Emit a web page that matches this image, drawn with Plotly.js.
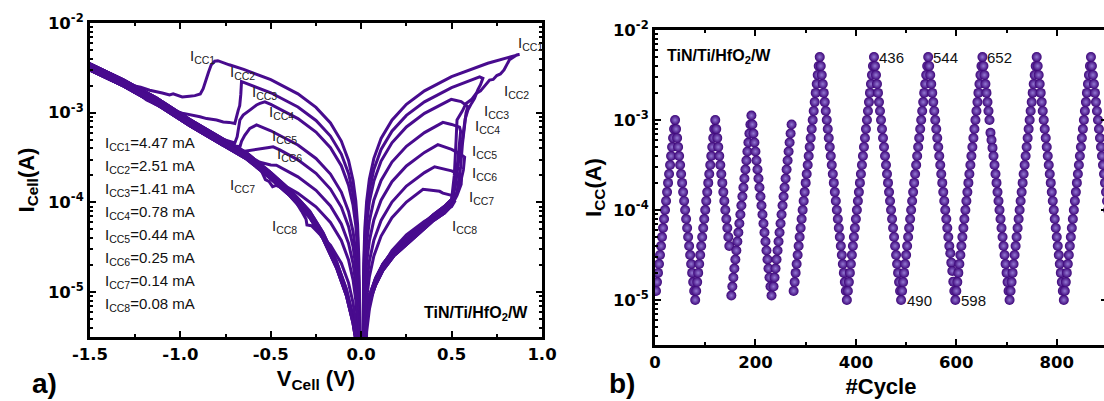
<!DOCTYPE html>
<html>
<head>
<meta charset="utf-8">
<script src="https://cdn.plot.ly/plotly-3.0.1.min.js"></script>
<style>
html,body{margin:0;padding:0;overflow:hidden;background:#fff;}
#chart{width:1130px;height:401px;}
</style>
</head>
<body>
<div id="chart"></div>
<script>
// ---------------- Panel a) : I-V loops ----------------
const ccNames = ['CC1','CC2','CC3','CC4','CC5','CC6','CC7','CC8'];
const ccValues = ['4.47','2.51','1.41','0.78','0.44','0.25','0.14','0.08'];

// positive HRS rise (shared band, three edges of the thick bundle)
const ivRiseV   = [0.012,0.02,0.03,0.05,0.08,0.12,0.18,0.25,0.33,0.40,0.46,0.50];
const ivRiseHi  = [1e-7,2.7e-6,5.4e-6,9.6e-6,1.43e-5,2.05e-5,2.97e-5,4.0e-5,5.5e-5,7.3e-5,9.0e-5,1.08e-4];
const ivRiseMid = [1e-7,2.5e-6,5.0e-6,8.9e-6,1.32e-5,1.9e-5,2.75e-5,3.7e-5,5.1e-5,6.8e-5,8.3e-5,1.0e-4];
const ivRiseLo  = [1e-7,2.3e-6,4.6e-6,8.2e-6,1.21e-5,1.75e-5,2.53e-5,3.4e-5,4.7e-5,6.3e-5,7.6e-5,9.2e-5];

// negative HRS band (-1.5 V .. 0 V)
const ivBandV   = [-1.5,-1.316,-1.132,-0.948,-0.763,-0.634,-0.506,-0.395,-0.285,-0.211,-0.137,-0.082,-0.045,-0.027,-0.02];
const ivBandHi  = [3.5e-3,2.33e-3,1.46e-3,8.4e-4,5.05e-4,3.57e-4,2.2e-4,1.39e-4,8.0e-5,4.6e-5,2.2e-5,1.08e-5,5.3e-6,3.1e-6,1e-7];
const ivBandMid = [3.24e-3,2.16e-3,1.35e-3,7.76e-4,4.68e-4,3.31e-4,2.04e-4,1.29e-4,7.41e-5,4.27e-5,2.04e-5,1.0e-5,4.9e-6,2.9e-6,1e-7];
const ivBandLo  = [2.98e-3,1.99e-3,1.24e-3,7.14e-4,4.31e-4,3.05e-4,1.88e-4,1.19e-4,6.8e-5,3.93e-5,1.88e-5,9.2e-6,4.5e-6,2.7e-6,1e-7];

// per-curve: SET -> LRS (+) -> LRS (-) -> RESET tail
const ivV1 = [0.515,0.525,0.53,0.56,0.58,0.61,0.636,0.66,0.68,0.71,0.73,0.75,0.77,0.79,0.82,0.86,0.876,
  0.7,0.5,0.35,0.25,0.17,0.11,0.07,0.045,0.03,0.02,0.014,0.011,0,
  -0.0085,-0.01,-0.013,-0.02,-0.03,-0.045,-0.07,-0.11,-0.17,-0.25,-0.35,-0.5,-0.65,-0.73,-0.793,
  -0.81,-0.83,-0.845,-0.855,-0.874,-0.89,-0.92,-0.95,-0.99,-1.04,-1.06,-1.10,-1.13,-1.17,-1.22,-1.26];
const ivI1 = [2.0e-4,5.0e-4,8.3e-4,1.05e-3,1.27e-3,1.40e-3,1.64e-3,1.75e-3,1.98e-3,2.31e-3,2.35e-3,2.6e-3,2.7e-3,3.0e-3,3.9e-3,4.4e-3,4.47e-3,
  3.56e-3,2.53e-3,1.755e-3,1.239e-3,8.26e-4,5.16e-4,3.10e-4,1.81e-4,1.03e-4,5.16e-5,2.07e-5,5.2e-6,1e-8,
  1e-8,9.5e-6,2.37e-5,5.69e-5,1.04e-4,1.75e-4,2.94e-4,4.83e-4,7.68e-4,1.147e-3,1.621e-3,2.332e-3,3.043e-3,3.42e-3,3.8e-3,
  3.75e-3,3.4e-3,2.8e-3,2.4e-3,1.85e-3,1.62e-3,1.55e-3,1.53e-3,1.50e-3,1.62e-3,1.58e-3,1.66e-3,1.70e-3,1.78e-3,1.92e-3,2.0e-3];

const ivV2 = [0.52,0.54,0.56,0.575,0.59,0.61,0.627,0.645,0.66,0.673,0.655,
  0.5,0.35,0.25,0.17,0.11,0.07,0.045,0.03,0.02,0.014,0.011,0,
  -0.0085,-0.01,-0.013,-0.02,-0.03,-0.045,-0.07,-0.11,-0.17,-0.25,-0.35,-0.5,-0.65,-0.662,
  -0.666,-0.672,-0.68,-0.69,-0.699,-0.73,-0.763,-0.80,-0.855,-0.892,-0.948,-0.99,-1.04,-1.08,-1.113,-1.15,-1.187,-1.224,-1.26,-1.29];
const ivI2 = [1.5e-4,3.0e-4,5.0e-4,8.5e-4,1.07e-3,1.27e-3,1.45e-3,1.8e-3,2.05e-3,2.42e-3,2.51e-3,
  1.907e-3,1.323e-3,9.34e-4,6.23e-4,3.89e-4,2.33e-4,1.36e-4,7.78e-5,3.89e-5,1.56e-5,3.9e-6,1e-8,
  1e-8,6.8e-6,1.69e-5,4.07e-5,7.46e-5,1.254e-4,2.10e-4,3.46e-4,5.49e-4,8.20e-4,1.159e-3,1.668e-3,2.176e-3,2.22e-3,
  1.6e-3,1.2e-3,1.07e-3,8.5e-4,7.6e-4,7.8e-4,7.9e-4,8.3e-4,8.6e-4,9.0e-4,9.4e-4,9.9e-4,1.07e-3,1.12e-3,1.17e-3,1.28e-3,1.39e-3,1.57e-3,1.71e-3,1.95e-3];

const ivV3 = [0.53,0.55,0.56,0.57,0.58,0.59,0.553,0.52,0.498,
  0.35,0.25,0.17,0.11,0.07,0.045,0.03,0.02,0.014,0.011,0,
  -0.0085,-0.01,-0.013,-0.02,-0.03,-0.045,-0.07,-0.11,-0.17,-0.25,-0.35,-0.5,-0.533,
  -0.56,-0.579,-0.616,-0.653,-0.671,-0.68,-0.686,-0.699];
const ivI3 = [1.3e-4,2.5e-4,4.5e-4,7.0e-4,1.0e-3,1.17e-3,1.33e-3,1.38e-3,1.41e-3,
  9.83e-4,6.94e-4,4.62e-4,2.89e-4,1.73e-4,1.01e-4,5.78e-5,2.89e-5,1.16e-5,2.9e-6,1e-8,
  1e-8,5.0e-6,1.26e-5,3.02e-5,5.53e-5,9.30e-5,1.558e-4,2.563e-4,4.07e-4,6.08e-4,8.59e-4,1.236e-3,1.32e-3,
  1.27e-3,1.22e-3,1.07e-3,9.4e-4,8.3e-4,6.5e-4,5.4e-4,4.6e-4];

const ivV4 = [0.52,0.535,0.545,0.55,0.544,0.50,0.452,
  0.35,0.25,0.17,0.11,0.07,0.045,0.03,0.02,0.014,0.011,0,
  -0.0085,-0.01,-0.013,-0.02,-0.03,-0.045,-0.07,-0.11,-0.17,-0.25,-0.35,-0.5,-0.579,
  -0.60,-0.616,-0.644,-0.662,-0.67];
const ivI4 = [1.6e-4,3.0e-4,4.5e-4,6.2e-4,6.9e-4,7.4e-4,7.8e-4,
  6.0e-4,4.23e-4,2.82e-4,1.76e-4,1.06e-4,6.17e-5,3.53e-5,1.76e-5,7.05e-6,1.8e-6,1e-8,
  1e-8,2.6e-6,6.4e-6,1.53e-5,2.81e-5,4.73e-5,7.93e-5,1.304e-4,2.07e-4,3.09e-4,4.37e-4,6.29e-4,7.3e-4,
  7.0e-4,6.7e-4,5.6e-4,4.8e-4,4.2e-4];

const ivV5 = [0.53,0.55,0.565,0.572,0.544,0.50,0.424,
  0.35,0.25,0.17,0.11,0.07,0.045,0.03,0.02,0.014,0.011,0,
  -0.0085,-0.01,-0.013,-0.02,-0.03,-0.045,-0.07,-0.11,-0.17,-0.25,-0.35,-0.45,-0.487,
  -0.51,-0.542,-0.58,-0.616,-0.64,-0.653];
const ivI5 = [1.3e-4,1.7e-4,2.3e-4,3.2e-4,3.5e-4,3.9e-4,4.4e-4,
  3.61e-4,2.55e-4,1.70e-4,1.06e-4,6.38e-5,3.72e-5,2.13e-5,1.06e-5,4.25e-6,1.1e-6,1e-8,
  1e-8,1.7e-6,4.35e-6,1.04e-5,1.91e-5,3.22e-5,5.40e-5,8.88e-5,1.41e-4,2.11e-4,2.98e-4,3.85e-4,4.17e-4,
  4.1e-4,4.0e-4,3.9e-4,3.83e-4,3.75e-4,3.7e-4];

const ivV6 = [0.53,0.553,0.555,0.50,0.406,
  0.35,0.25,0.17,0.11,0.07,0.045,0.03,0.02,0.014,0,
  -0.0085,-0.013,-0.02,-0.03,-0.045,-0.07,-0.11,-0.17,-0.25,-0.35,-0.469,
  -0.50,-0.524,-0.561,-0.598,-0.63];
const ivI6 = [1.2e-4,1.6e-4,2.0e-4,2.25e-4,2.5e-4,
  2.15e-4,1.52e-4,1.01e-4,6.31e-5,3.79e-5,2.21e-5,1.26e-5,6.3e-6,2.5e-6,1e-8,
  1e-8,2.8e-6,6.8e-6,1.24e-5,2.09e-5,3.50e-5,5.75e-5,9.14e-5,1.365e-4,1.929e-4,2.6e-4,
  2.62e-4,2.67e-4,2.8e-4,3.1e-4,3.4e-4];

const ivV7 = [0.52,0.50,0.452,0.434,0.38,0.342,
  0.25,0.17,0.11,0.07,0.045,0.03,0.02,0.014,0,
  -0.0085,-0.02,-0.03,-0.045,-0.07,-0.11,-0.17,-0.25,-0.35,-0.40,
  -0.43,-0.47,-0.49,-0.51,-0.53,-0.55,-0.56];
const ivI7 = [1.15e-4,1.2e-4,1.27e-4,1.33e-4,1.38e-4,1.4e-4,
  1.01e-4,6.75e-5,4.22e-5,2.53e-5,1.48e-5,8.4e-6,4.2e-6,1.7e-6,1e-8,
  1e-8,4.4e-6,8.1e-6,1.37e-5,2.29e-5,3.77e-5,5.99e-5,8.95e-5,1.265e-4,1.45e-4,
  1.42e-4,1.55e-4,1.5e-4,1.72e-4,1.8e-4,2.2e-4,2.6e-4];

const ivV8 = [0.52,0.50,0.45,
  0.35,0.25,0.17,0.11,0.07,0.045,0.03,0,
  -0.0085,-0.03,-0.045,-0.07,-0.11,-0.17,-0.25,-0.275,-0.30,
  -0.305,-0.33,-0.36,-0.37];
const ivI8 = [1.05e-4,9.0e-5,8.0e-5,
  6.18e-5,4.36e-5,2.91e-5,1.82e-5,1.09e-5,6.4e-6,3.6e-6,1e-8,
  1e-8,4.5e-6,7.6e-6,1.27e-5,2.10e-5,3.33e-5,4.97e-5,5.5e-5,5.6e-5,
  6.5e-5,8.0e-5,1.0e-4,1.17e-4];

// ---------------- Panel b) : I_CC vs cycle ----------------
const cycleNo = [
  2,4,6,8,10,12,14,16,18,20,22,24,26,28,30,32,34,36,38,40,
  42,44,46,48,50,52,54,56,58,60,62,64,66,68,70,72,74,76,78,80,
  82,84,86,88,90,92,94,96,98,100,102,104,106,108,110,112,114,116,118,120,
  122,124,126,128,130,132,134,136,138,140,142,144,146,148,
  152,154,156,158,160,162,164,166,168,170,172,174,176,178,180,182,184,186,188,190,192,
  194,196,198,200,202,204,206,208,210,212,214,216,218,220,222,224,226,228,230,232,
  236,238,240,242,244,246,248,250,252,254,256,258,260,262,264,266,268,270,272,
  276,278,280,282,284,286,288,290,292,294,296,298,300,302,304,306,308,310,312,314,316,318,320,322,324,326,328,
  330,332,334,336,338,340,342,344,346,348,350,352,354,356,358,360,362,364,366,368,370,372,374,376,378,380,382,
  384,386,388,390,392,394,396,398,400,402,404,406,408,410,412,414,416,418,420,422,424,426,428,430,432,434,436,
  438,440,442,444,446,448,450,452,454,456,458,460,462,464,466,468,470,472,474,476,478,480,482,484,486,488,490,
  492,494,496,498,500,502,504,506,508,510,512,514,516,518,520,522,524,526,528,530,532,534,536,538,540,542,544,
  546,548,550,552,554,556,558,560,562,564,566,568,570,572,574,576,578,580,582,584,586,588,590,592,594,596,598,
  600,602,604,606,608,610,612,614,616,618,620,622,624,626,628,630,632,634,636,638,640,642,644,646,648,650,652,
  654,656,658,660,662,664,666,668,670,672,674,676,678,680,682,684,686,688,690,692,694,696,698,700,702,704,706,
  708,710,712,714,716,718,720,722,724,726,728,730,732,734,736,738,740,742,744,746,748,750,752,754,756,758,760,
  762,764,766,768,770,772,774,776,778,780,782,784,786,788,790,792,794,796,798,800,802,804,806,808,810,812,814,
  816,818,820,822,824,826,828,830,832,834,836,838,840,842,844,846,848,850,852,854,856,858,860,862,864,866,868,
  870,872,874,876,878,880,882,884,886,888,890,892,894,896,898,900,902,904,906,908,910,912,914,916,918,920,922];

const sweepRiseSmall = [1.26e-5,1.58e-5,2.00e-5,2.51e-5,3.16e-5,3.98e-5,5.01e-5,6.31e-5,7.94e-5,1.00e-4,1.26e-4,1.58e-4,2.00e-4,2.51e-4,3.16e-4,3.98e-4,5.01e-4,6.31e-4,7.94e-4,1.00e-3];
const sweepFallSmall = [7.94e-4,6.31e-4,5.01e-4,3.98e-4,3.16e-4,2.51e-4,2.00e-4,1.58e-4,1.26e-4,1.00e-4,7.94e-5,6.31e-5,5.01e-5,3.98e-5,3.16e-5,2.51e-5,2.00e-5,1.58e-5,1.26e-5,1.00e-5];
const sweepFallShort = [7.94e-4,6.31e-4,5.01e-4,3.98e-4,3.16e-4,2.51e-4,2.00e-4,1.58e-4,1.26e-4,1.00e-4,7.94e-5,6.31e-5,5.01e-5,3.98e-5];
const sweepRiseMid = [1.12e-5,1.41e-5,1.78e-5,2.24e-5,2.82e-5,3.55e-5,4.47e-5,5.62e-5,7.08e-5,8.91e-5,1.12e-4,1.41e-4,1.78e-4,2.24e-4,2.82e-4,3.55e-4,4.47e-4,5.62e-4,7.08e-4,8.91e-4,1.12e-3];
const sweepFallMid = [8.91e-4,7.08e-4,5.62e-4,4.47e-4,3.55e-4,2.82e-4,2.24e-4,1.78e-4,1.41e-4,1.12e-4,8.91e-5,7.08e-5,5.62e-5,4.47e-5,3.55e-5,2.82e-5,2.24e-5,1.78e-5,1.41e-5,1.12e-5];
const sweepRiseShort = [1.41e-5,1.78e-5,2.24e-5,2.82e-5,3.55e-5,4.47e-5,5.62e-5,7.08e-5,8.91e-5,1.12e-4,1.41e-4,1.78e-4,2.24e-4,2.82e-4,3.55e-4,4.47e-4,5.62e-4,7.08e-4,8.91e-4];
const sweepRiseBig = [1.26e-5,1.58e-5,2.00e-5,2.51e-5,3.16e-5,3.98e-5,5.01e-5,6.31e-5,7.94e-5,1.00e-4,1.26e-4,1.58e-4,2.00e-4,2.51e-4,3.16e-4,3.98e-4,5.01e-4,6.31e-4,7.94e-4,1.00e-3,1.26e-3,1.58e-3,2.00e-3,2.51e-3,3.16e-3,3.98e-3,5.01e-3];
const sweepFallBig = [3.98e-3,3.16e-3,2.51e-3,2.00e-3,1.58e-3,1.26e-3,1.00e-3,7.94e-4,6.31e-4,5.01e-4,3.98e-4,3.16e-4,2.51e-4,2.00e-4,1.58e-4,1.26e-4,1.00e-4,7.94e-5,6.31e-5,5.01e-5,3.98e-5,3.16e-5,2.51e-5,2.00e-5,1.58e-5,1.26e-5,1.00e-5];
const sweepFall598 = [3.98e-3,3.16e-3,2.51e-3,2.00e-3,1.58e-3,1.26e-3,1.00e-3,7.94e-4,6.31e-4,5.01e-4,3.98e-4,3.16e-4,2.51e-4,2.00e-4,1.58e-4,1.26e-4,1.00e-4,7.94e-5,6.31e-5,5.01e-5,3.98e-5,3.3e-5,2.6e-5,2.1e-5,1.6e-5,1.26e-5,1.00e-5];
const sweepFall706 = [3.98e-3,3.16e-3,2.51e-3,2.00e-3,1.58e-3,1.26e-3,1.00e-3,7.2e-4,6.0e-4,4.9e-4,3.98e-4,3.16e-4,2.51e-4,2.00e-4,1.58e-4,1.26e-4,1.00e-4,7.94e-5,6.31e-5,5.01e-5,3.98e-5,3.16e-5,2.51e-5,2.00e-5,1.58e-5,1.26e-5,1.00e-5];

const iccA = [].concat(sweepRiseSmall, sweepFallSmall, sweepRiseSmall, sweepFallShort,
  sweepRiseMid, sweepFallMid, sweepRiseShort,
  sweepRiseBig, sweepFallBig, sweepRiseBig, sweepFallBig, sweepRiseBig, sweepFall598,
  sweepRiseBig, sweepFall706, sweepRiseBig, sweepFallBig, sweepRiseBig, sweepFallBig);

const peakCycles = [436, 544, 652];
const minCycles = [490, 598];

const xTickA = [-1.5,-1.0,-0.5,0.0,0.5,1.0];
const xTickTextA = ['-1.5','-1.0','-0.5','0.0','0.5','1.0'];
const yTickVals = [1e-5,1e-4,1e-3,1e-2];
const yTickText = ['10<sup>-5</sup>','10<sup>-4</sup>','10<sup>-3</sup>','10<sup>-2</sup>'];
const xTickB = [0,200,400,600,800];

// ---------------- build traces ----------------
const purple = '#480b8e';
const loopsV = [ivV1,ivV2,ivV3,ivV4,ivV5,ivV6,ivV7,ivV8];
const loopsI = [ivI1,ivI2,ivI3,ivI4,ivI5,ivI6,ivI7,ivI8];
const riseSet = [ivRiseHi,ivRiseMid,ivRiseLo,ivRiseHi,ivRiseMid,ivRiseLo,ivRiseHi,ivRiseLo];
const fwdSet  = [ivBandHi,ivBandMid,ivBandHi,ivBandLo,ivBandHi,ivBandMid,ivBandLo,ivBandMid];
const retSet  = [ivBandLo,ivBandHi,ivBandMid,ivBandMid,ivBandLo,ivBandHi,ivBandMid,ivBandLo];

const traces = [];
for (let k = 0; k < 8; k++) {
  const v = ivRiseV.concat(loopsV[k]);
  const c = riseSet[k].concat(loopsI[k]);
  const vEnd = loopsV[k][loopsV[k].length - 1];
  for (let j = ivBandV.length - 1; j >= 0; j--) {
    if (ivBandV[j] < vEnd) { v.push(ivBandV[j]); c.push(fwdSet[k][j]); }
  }
  for (let j = 0; j < ivBandV.length; j++) { v.push(ivBandV[j]); c.push(retSet[k][j]); }
  traces.push({type:'scatter', mode:'lines', x:v, y:c, xaxis:'x', yaxis:'y',
    name:'I' + ccNames[k], line:{color:purple, width:3}, hoverinfo:'skip', showlegend:false});
}
traces.push({type:'scatter', mode:'markers', x:cycleNo, y:iccA, xaxis:'x2', yaxis:'y2', showlegend:false,
  marker:{size:10, color:'#3c0478', line:{width:0}, gradient:{type:'radial', color:'#9479d4'}}});

// ---------------- layout ----------------
const W = 1130, H = 401;
const tickFont = {family:'DejaVu Sans, Liberation Sans, sans-serif', size:16.5, color:'#000', weight:'bold'};
const titleFont = {family:'Liberation Sans, Arial, sans-serif', size:22, color:'#000', weight:'bold'};
function axis(extra) {
  return Object.assign({showline:true, linecolor:'#000', linewidth:3, mirror:'ticks',
    ticks:'inside', ticklen:6, tickwidth:2, tickcolor:'#000', showgrid:false, zeroline:false,
    tickfont:tickFont, automargin:false, fixedrange:true}, extra);
}
const logMinor = {ticks:'inside', ticklen:3, tickwidth:1.5, tickcolor:'#000', dtick:'D1', showgrid:false};

const ann = [];
const lblFont = {family:'Liberation Sans, Arial, sans-serif', size:15, color:'#222'};
const leftPos = [[-0.958,-2.368],[-0.737,-2.557],[-0.615,-2.78],[-0.521,-3.003],[-0.504,-3.26],[-0.477,-3.471],[-0.737,-3.806],[-0.504,-4.263]];
const rightPos = [[0.856,-2.223],[0.779,-2.758],[0.668,-2.981],[0.618,-3.159],[0.602,-3.427],[0.602,-3.672],[0.585,-3.94],[0.491,-4.263]];
for (let k = 0; k < 8; k++) {
  ann.push({xref:'x', yref:'y', x:leftPos[k][0], y:leftPos[k][1], text:'I<sub>' + ccNames[k] + '</sub>',
    showarrow:false, xanchor:'left', yanchor:'middle', font:lblFont});
  ann.push({xref:'x', yref:'y', x:rightPos[k][0], y:rightPos[k][1], text:'I<sub>' + ccNames[k] + '</sub>',
    showarrow:false, xanchor:'left', yanchor:'middle', font:lblFont});
  ann.push({xref:'x', yref:'y', x:-1.428, y:-3.341 - 0.2567 * k,
    text:'I<sub>' + ccNames[k] + '</sub>=' + ccValues[k] + ' mA',
    showarrow:false, xanchor:'left', yanchor:'middle', font:{family:'Liberation Sans, Arial, sans-serif', size:15, color:'#111'}});
}
const devFont = {family:'Liberation Sans, Arial, sans-serif', size:16, color:'#000', weight:'bold'};
ann.push({xref:'x', yref:'y', x:0.934, y:-5.233, text:'TiN/Ti/HfO<sub>2</sub>/W', showarrow:false,
  xanchor:'right', yanchor:'middle', font:devFont});
ann.push({xref:'x2', yref:'y2', x:20, y:-2.289, text:'TiN/Ti/HfO<sub>2</sub>/W', showarrow:false,
  xanchor:'left', yanchor:'middle', font:devFont});
const numFont = {family:'Liberation Sans, Arial, sans-serif', size:15, color:'#111'};
peakCycles.forEach(c => ann.push({xref:'x2', yref:'y2', x:c, y:Math.log10(5.01e-3), text:String(c),
  showarrow:false, xanchor:'left', yanchor:'middle', xshift:3, font:numFont}));
minCycles.forEach(c => ann.push({xref:'x2', yref:'y2', x:c, y:-5.0, text:String(c),
  showarrow:false, xanchor:'left', yanchor:'middle', xshift:4, font:numFont}));
const panelFont = {family:'Liberation Sans, Arial, sans-serif', size:28, color:'#000', weight:'bold'};
ann.push({xref:'paper', yref:'paper', x:30/W, y:1 - 383/H, text:'a)', showarrow:false, xanchor:'left', yanchor:'middle', font:panelFont});
ann.push({xref:'paper', yref:'paper', x:607/W, y:1 - 383/H, text:'b)', showarrow:false, xanchor:'left', yanchor:'middle', font:panelFont});

const layout = {
  width:W, height:H, margin:{l:0, r:0, t:0, b:0},
  paper_bgcolor:'#fff', plot_bgcolor:'#fff', showlegend:false,
  xaxis: axis({domain:[90/W, 542/W], range:[-1.5, 1.0], anchor:'y',
    tickmode:'array', tickvals:xTickA, ticktext:xTickTextA,
    minor:{ticks:'inside', ticklen:3, tickwidth:1.5, tickcolor:'#000', tickmode:'linear', tick0:-1.5, dtick:0.25, showgrid:false},
    title:{text:'V<sub>Cell</sub> (V)', font:titleFont, standoff:8}}),
  yaxis: axis({domain:[1 - 337/H, 1 - 23/H], type:'log', range:[-5.5, -2], anchor:'x',
    tickmode:'array', tickvals:yTickVals, ticktext:yTickText, minor:logMinor,
    title:{text:'I<sub>Cell</sub>(A)', font:titleFont, standoff:8}}),
  xaxis2: axis({domain:[655/W, 1107/W], range:[0, 900], anchor:'y2',
    tickmode:'array', tickvals:xTickB,
    minor:{ticks:'inside', ticklen:3, tickwidth:1.5, tickcolor:'#000', tickmode:'linear', tick0:0, dtick:100, showgrid:false},
    title:{text:'#Cycle', font:titleFont, standoff:8}}),
  yaxis2: axis({domain:[1 - 345/H, 1 - 30/H], type:'log', range:[-5.5, -2], anchor:'x2',
    tickmode:'array', tickvals:yTickVals, ticktext:yTickText, minor:logMinor,
    title:{text:'I<sub>CC</sub>(A)', font:titleFont, standoff:6}}),
  annotations: ann
};

Plotly.newPlot('chart', traces, layout, {displayModeBar:false});
</script>
</body>
</html>
